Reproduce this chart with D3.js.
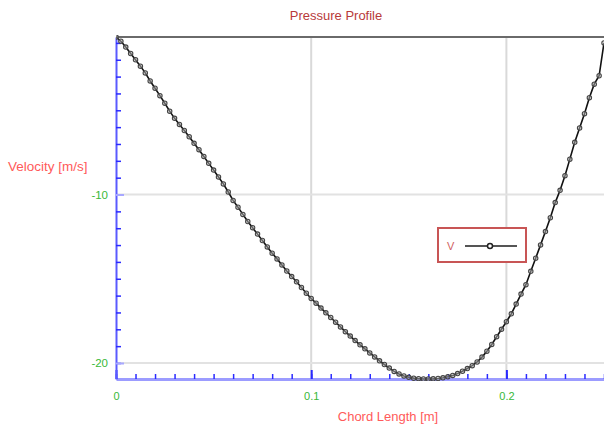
<!DOCTYPE html>
<html><head><meta charset="utf-8">
<script src="https://cdn.jsdelivr.net/npm/d3@7"></script>
<style>body{margin:0;background:#fff}svg{display:block}text{font-family:"Liberation Sans",Arial,sans-serif}</style>
</head><body><svg id="c" width="604" height="431"></svg>
<script>
const chordLength = [0,0.0025,0.005,0.0075,0.01,0.0125,0.015,0.0175,0.02,0.0225,0.025,0.0275,0.03,0.0325,0.035,0.0375,0.04,0.0425,0.045,0.0475,0.05,0.0525,0.055,0.0575,0.06,0.0625,0.065,0.0675,0.07,0.0725,0.075,0.0775,0.08,0.0825,0.085,0.0875,0.09,0.0925,0.095,0.0975,0.1,0.1025,0.105,0.1075,0.11,0.1125,0.115,0.1175,0.12,0.1225,0.125,0.1275,0.13,0.1325,0.135,0.1375,0.14,0.1425,0.145,0.1475,0.15,0.1525,0.155,0.1575,0.16,0.1625,0.165,0.1675,0.17,0.1725,0.175,0.1775,0.18,0.1825,0.185,0.1875,0.19,0.1925,0.195,0.1975,0.2,0.2025,0.205,0.2075,0.21,0.2125,0.215,0.2175,0.22,0.2225,0.225,0.2275,0.23,0.2325,0.235,0.2375,0.24,0.2425,0.245,0.2475,0.25];
const velocity = [-0.65,-0.90,-1.25,-1.63,-2.00,-2.38,-2.78,-3.26,-3.69,-4.13,-4.58,-5.05,-5.48,-5.84,-6.20,-6.57,-6.96,-7.34,-7.74,-8.15,-8.55,-8.96,-9.37,-9.85,-10.35,-10.75,-11.18,-11.60,-11.97,-12.35,-12.73,-13.11,-13.48,-13.82,-14.18,-14.54,-14.87,-15.18,-15.52,-15.86,-16.17,-16.45,-16.74,-17.02,-17.30,-17.58,-17.86,-18.14,-18.40,-18.67,-18.92,-19.16,-19.40,-19.64,-19.87,-20.09,-20.30,-20.50,-20.65,-20.77,-20.85,-20.90,-20.93,-20.95,-20.95,-20.94,-20.92,-20.88,-20.82,-20.74,-20.63,-20.49,-20.33,-20.16,-19.94,-19.65,-19.30,-18.90,-18.44,-18.00,-17.55,-17.08,-16.50,-15.91,-15.35,-14.56,-13.78,-12.99,-12.20,-11.38,-10.48,-9.75,-8.88,-7.90,-6.90,-6.05,-5.20,-4.25,-3.45,-2.95,-1.00];
const xTickLabels = [0, 0.1, 0.2];
const yTickLabels = [-10, -20];
const seriesName = "V";
const titleText = "Pressure Profile";
const xTitle = "Chord Length [m]";
const yTitle = "Velocity [m/s]";

const svg = d3.select("#c");
const L = 116, R = 604, T = 37, B = 379;
const x = d3.scaleLinear().domain(d3.extent(chordLength)).range([L, R]);
const y = d3.scaleLinear().domain(d3.extent(velocity)).range([B, T]);
const data = chordLength.map((c, i) => ({c, v: velocity[i]}));

svg.append("defs").append("clipPath").attr("id","clip")
  .append("rect").attr("x", L).attr("y", T - 2).attr("width", R - L).attr("height", B - T + 4);

// gridlines
svg.append("g").selectAll("line").data(xTickLabels.filter(d => d > 0)).join("line")
  .attr("x1", d => x(d)).attr("x2", d => x(d)).attr("y1", T).attr("y2", B)
  .attr("stroke", "#d9d9d9").attr("stroke-width", 2);
svg.append("g").selectAll("line").data(yTickLabels).join("line")
  .attr("x1", L).attr("x2", R).attr("y1", d => y(d)).attr("y2", d => y(d))
  .attr("stroke", "#e2e2e2").attr("stroke-width", 2);

// top border
svg.append("line").attr("x1", L).attr("x2", R).attr("y1", T).attr("y2", T)
  .attr("stroke", "#6a6a6a").attr("stroke-width", 2);

const fmtY = d => String(d);   // plain hyphen-minus like the reference

// x axis
const xMinor = d3.axisBottom(x).ticks(25).tickSizeInner(-5).tickSizeOuter(0).tickFormat("");
const gx = svg.append("g").attr("transform", `translate(0,${B})`).call(xMinor);
gx.select(".domain").attr("stroke", "#9c9cff").attr("stroke-width", 3);
gx.selectAll(".tick line").attr("stroke", "#2a2aff").attr("stroke-width", 1.5);
const xMajor = d3.axisBottom(x).tickValues(xTickLabels).tickSizeInner(-9).tickSizeOuter(0).tickFormat(d3.format("~g"));
const gx2 = svg.append("g").attr("transform", `translate(0,${B})`).call(xMajor);
gx2.select(".domain").remove();
gx2.selectAll(".tick line").attr("stroke", "#2a2aff").attr("stroke-width", 2);
gx2.selectAll(".tick text").attr("y", 21).attr("dy", 0).attr("fill", "#38b838").attr("font-size", 11)
  .attr("font-family", '"Liberation Sans",Arial,sans-serif');

// y axis
const yMinor = d3.axisLeft(y).ticks(20).tickSizeInner(-5).tickSizeOuter(0).tickFormat("");
const gy = svg.append("g").attr("transform", `translate(${L},0)`).call(yMinor);
gy.select(".domain").attr("stroke", "#5a5aff").attr("stroke-width", 2);
gy.selectAll(".tick line").attr("stroke", "#2a2aff").attr("stroke-width", 1.5);
const yMajor = d3.axisLeft(y).tickValues(yTickLabels).tickSizeInner(-8).tickSizeOuter(0).tickPadding(8).tickFormat(fmtY);
const gy2 = svg.append("g").attr("transform", `translate(${L},0)`).call(yMajor);
gy2.select(".domain").remove();
gy2.selectAll(".tick line").attr("stroke", "#a8a8ff").attr("stroke-width", 2);
gy2.selectAll(".tick text").attr("fill", "#38b838").attr("font-size", 11.5)
  .attr("font-family", '"Liberation Sans",Arial,sans-serif');

// series
const plot = svg.append("g").attr("clip-path", "url(#clip)");
plot.append("path").datum(data)
  .attr("d", d3.line().x(d => x(d.c)).y(d => y(d.v)))
  .attr("fill", "none").attr("stroke", "#111").attr("stroke-width", 1.6);
plot.selectAll("circle").data(data).join("circle")
  .attr("cx", d => x(d.c)).attr("cy", d => y(d.v)).attr("r", 2.2)
  .attr("fill", "#bbb").attr("fill-opacity", 0.5).attr("stroke", "#444").attr("stroke-width", 1.1);

// titles
svg.append("text").attr("x", 336).attr("y", 20).attr("text-anchor", "middle")
  .attr("fill", "#b83a3a").attr("font-size", 13).text(titleText);
svg.append("text").attr("x", 388).attr("y", 421).attr("text-anchor", "middle")
  .attr("fill", "#ff5a5a").attr("font-size", 13).text(xTitle);
svg.append("text").attr("x", 8).attr("y", 171).attr("text-anchor", "start")
  .attr("fill", "#ff5a5a").attr("font-size", 13.5).text(yTitle);

// legend
const lg = svg.append("g");
lg.append("rect").attr("x", 438).attr("y", 228).attr("width", 88).attr("height", 34)
  .attr("fill", "#fff").attr("stroke", "#c85555").attr("stroke-width", 2);
lg.append("text").attr("x", 447).attr("y", 250).attr("fill", "#d06060").attr("font-size", 11).text(seriesName);
lg.append("line").attr("x1", 465).attr("x2", 517).attr("y1", 246).attr("y2", 246)
  .attr("stroke", "#555").attr("stroke-width", 2);
lg.append("circle").attr("cx", 490).attr("cy", 246).attr("r", 2.5)
  .attr("fill", "#fff").attr("stroke", "#222").attr("stroke-width", 1.5);
</script></body></html>
